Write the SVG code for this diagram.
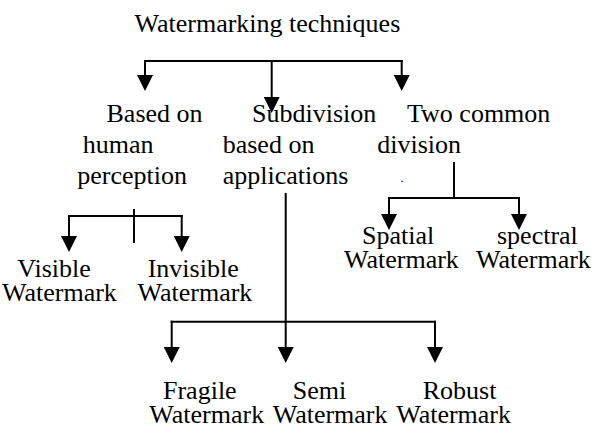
<svg xmlns="http://www.w3.org/2000/svg" width="594" height="430" viewBox="0 0 594 430">
<style>
.t text{font-size:26px;fill:#000}
.c line{stroke:#000;stroke-width:2;stroke-linecap:square}
.a{marker-end:url(#ah)}
</style>
<defs>
<marker id="ah" markerUnits="userSpaceOnUse" markerWidth="16" markerHeight="16" viewBox="0 0 15 15" refX="0" refY="7.5" orient="auto">
<path d="M0,0 L15,7.5 L0,15 Z" fill="#000"/>
</marker>
</defs>
<rect width="594" height="430" fill="#fff"/>
<g class="t" font-family="Liberation Serif, DejaVu Serif, serif">
<g id="root"><text x="134.5" y="32">Watermarking techniques</text></g>
<g id="perception"><text x="106.5" y="122">Based on</text><text x="82.7" y="153">human</text><text x="77.3" y="183.5">perception</text></g>
<g id="applications"><text x="252" y="122">Subdivision</text><text x="222.7" y="153">based on</text><text x="222.7" y="183.5">applications</text></g>
<g id="division"><text x="407" y="122">Two common</text><text x="377.3" y="153">division</text><text x="400.5" y="182" style="font-size:12px">.</text></g>
<g id="visible"><text x="17.3" y="277">Visible</text><text x="2" y="301">Watermark</text></g>
<g id="invisible"><text x="147.7" y="277">Invisible</text><text x="137.5" y="301">Watermark</text></g>
<g id="spatial"><text x="362" y="244">Spatial</text><text x="344" y="268">Watermark</text></g>
<g id="spectral"><text x="497" y="244">spectral</text><text x="476" y="268">Watermark</text></g>
<g id="fragile"><text x="163" y="399">Fragile</text><text x="149.3" y="423">Watermark</text></g>
<g id="semi"><text x="292.7" y="399">Semi</text><text x="272.7" y="423">Watermark</text></g>
<g id="robust"><text x="422.7" y="399">Robust</text><text x="396.2" y="423">Watermark</text></g>
</g>
<g id="connectors" class="c">
<line x1="145" y1="61" x2="401.7" y2="61"/>
<line class="a" x1="145" y1="61" x2="145" y2="75"/>
<line class="a" x1="271.7" y1="61" x2="271.7" y2="97"/>
<line class="a" x1="401.7" y1="61" x2="401.7" y2="75"/>
<line x1="134" y1="210" x2="134" y2="242"/>
<line x1="69" y1="216" x2="181.7" y2="216"/>
<line class="a" x1="69" y1="216" x2="69" y2="236"/>
<line class="a" x1="181.7" y1="216" x2="181.7" y2="236"/>
<line x1="454" y1="163" x2="454" y2="198"/>
<line x1="389" y1="198" x2="519" y2="198"/>
<line class="a" x1="389" y1="198" x2="389" y2="214"/>
<line class="a" x1="519" y1="198" x2="519" y2="214"/>
<line class="a" x1="285.7" y1="194" x2="285.7" y2="347"/>
<line x1="171.7" y1="321.7" x2="435" y2="321.7"/>
<line class="a" x1="171.7" y1="321.7" x2="171.7" y2="347"/>
<line class="a" x1="435" y1="321.7" x2="435" y2="347"/>
</g>
</svg>
